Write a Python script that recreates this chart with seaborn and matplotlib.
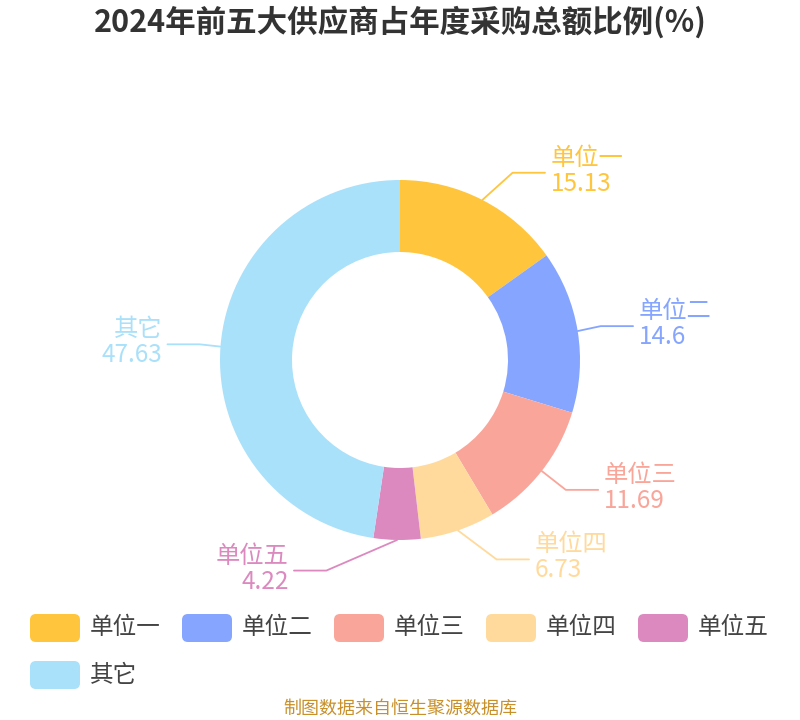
import numpy as np
import matplotlib
matplotlib.use('Agg')
import matplotlib.pyplot as plt
from matplotlib.patches import FancyBboxPatch
import seaborn as sns

# 数据
names = ['单位一', '单位二', '单位三', '单位四', '单位五', '其它']
shares = [15.13, 14.6, 11.69, 6.73, 4.22, 47.63]
share_text = ['15.13', '14.6', '11.69', '6.73', '4.22', '47.63']
colors = ['#FFC53D', '#85A5FF', '#F9A59A', '#FFDA9C', '#DC89C0', '#A9E0FA']
title = '2024年前五大供应商占年度采购总额比例(%)'
source = '制图数据来自恒生聚源数据库'

sns.set_theme(style='white')
plt.rcParams['font.family'] = ['Noto Sans CJK SC', 'DejaVu Sans']

fig = plt.figure(figsize=(8, 7.2), dpi=100)

# 饼图: 1 个单位 = 180 像素, 圆心在 (400, 360)
ax = fig.add_axes([0, 0, 1, 1])
palette = sns.color_palette(colors)
wedges, _ = ax.pie(shares, colors=palette, startangle=90, counterclock=False,
                   radius=1, wedgeprops=dict(width=0.4, linewidth=0))
ax.set_xlim(-400 / 180, 400 / 180)
ax.set_ylim(-360 / 180, 360 / 180)
ax.set_aspect('equal')
ax.axis('off')

# 标签引导线 (避让偏移)
nudge = [0.09, -0.04, 0.0, 0.16, -0.39, 0.055]
for i, w in enumerate(wedges):
    mid = np.deg2rad((w.theta1 + w.theta2) / 2)
    x0, y0 = np.cos(mid), np.sin(mid)
    ex, ey = 1.17 * x0 + nudge[i], 1.17 * y0
    side = 1 if ex >= 0 else -1
    hx = ex + side * 0.18
    ax.plot([x0, ex, hx], [y0, ey, ey], color=palette[i], lw=1.3)
    tx = hx + side * 0.03
    ha = 'left' if side > 0 else 'right'
    ax.text(tx, ey + 15 / 180, names[i], ha=ha, va='center', fontsize=17.5, color=palette[i])
    ax.text(tx, ey - 11 / 180, share_text[i], ha=ha, va='center', fontsize=17.5, color=palette[i])

# 标题, 图例, 来源 (像素坐标)
lax = fig.add_axes([0, 0, 1, 1])
lax.set_xlim(0, 800)
lax.set_ylim(720, 0)
lax.axis('off')
lax.patch.set_alpha(0)

lax.text(400, 22, title, ha='center', va='center', fontsize=22,
         fontweight='bold', color='#333333')

for i, name in enumerate(names):
    x = 30 + 152 * (i % 5)
    y = 628 + 47 * (i // 5)
    lax.add_patch(FancyBboxPatch((x, y - 14), 50, 28,
                                 boxstyle='round,pad=0,rounding_size=6',
                                 facecolor=palette[i], edgecolor='none'))
    lax.text(x + 60, y, name, ha='left', va='center', fontsize=17, color='#444444')

lax.text(400, 709, source, ha='center', va='center', fontsize=13, color='#C8902A')

fig.savefig('out.png', dpi=100)
